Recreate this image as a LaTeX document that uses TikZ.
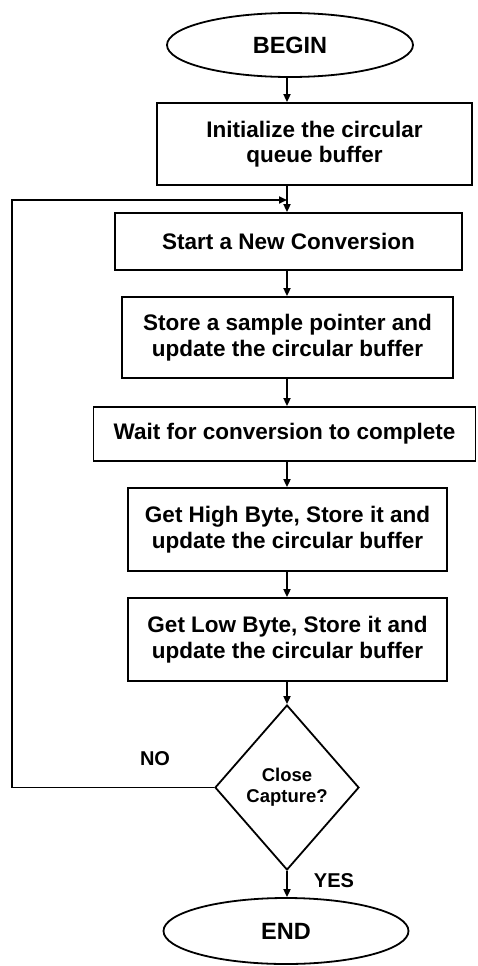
\documentclass[tikz,border=0pt]{standalone}
\usepackage{fontspec}
\setmainfont{Liberation Sans}
\usetikzlibrary{shapes.geometric,arrows.meta}
\begin{document}
\begin{tikzpicture}[x=1pt,y=-1pt,
  line width=1.8pt,
  box/.style={draw,rectangle,inner sep=0pt,align=center,font=\bfseries\fontsize{22.5}{25.5}\selectfont},
  term/.style={draw,ellipse,inner sep=0pt,minimum width=246pt,minimum height=64pt,font=\bfseries\fontsize{23.5}{26}\selectfont},
  decide/.style={draw,diamond,inner sep=0pt,minimum width=144pt,minimum height=165pt,align=center,font=\bfseries\fontsize{18.5}{21}\selectfont},
  lbl/.style={font=\bfseries\fontsize{20}{22}\selectfont},
  arr/.style={-{Triangle[length=8pt,width=7pt]}}]
\useasboundingbox (0,0) rectangle (477,966);
\node[term] (begin) at (290,45) {BEGIN};
\node[box,minimum width=315pt,minimum height=82pt] (init) at (314.5,144) {Initialize the circular\\queue buffer};
\node[box,minimum width=347pt,minimum height=57pt] (start) at (288.5,241.5) {Start a New Conversion};
\node[box,minimum width=331pt,minimum height=81pt] (store) at (287.5,337.5) {Store a sample pointer and\\update the circular buffer};
\node[box,minimum width=382pt,minimum height=54pt] (wait) at (284.5,434) {Wait for conversion to complete};
\node[box,minimum width=319pt,minimum height=83pt] (high) at (287.5,529.5) {Get High Byte, Store it and\\update the circular buffer};
\node[box,minimum width=319pt,minimum height=83pt] (low) at (287.5,639.5) {Get Low Byte, Store it and\\update the circular buffer};
\node[decide] (dec) at (287,787.5) {Close\\Capture?};
\node[term,minimum width=245pt,minimum height=66pt] (end) at (286,931) {END};
\node[lbl] (no) at (155,759) {NO};
\node[lbl] (yes) at (334,881) {YES};
\coordinate (merge) at (287,200);
\coordinate (cl) at (12,787.5);
\coordinate (tl) at (12,200);
\draw[arr] (begin.south -| merge) -- (init.north -| merge);
\draw[arr] (init.south -| merge) -- (start.north -| merge);
\draw[arr] (start.south -| merge) -- (store.north -| merge);
\draw[arr] (store.south -| merge) -- (wait.north -| merge);
\draw[arr] (wait.south -| merge) -- (high.north -| merge);
\draw[arr] (high.south -| merge) -- (low.north -| merge);
\draw[arr] (low.south -| merge) -- (dec.north);
\draw[arr] (dec.south) -- (end.north -| dec.south);
\draw[arr] (dec.west) -- (cl) -- (tl) -- (merge);
\end{tikzpicture}
\end{document}
